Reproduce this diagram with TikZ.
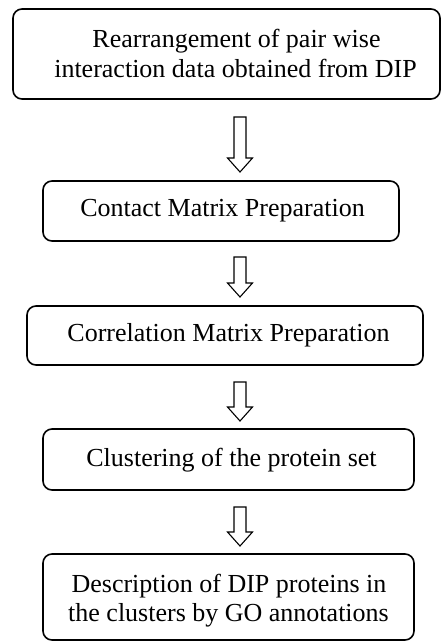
\documentclass[tikz,border=0pt]{standalone}
\usepackage{fontspec}
\setmainfont{Liberation Serif}
\usetikzlibrary{calc}
\tikzset{
  stagebox/.style={draw, line width=1.6pt, rounded corners=9pt, inner sep=0pt},
  boxtext/.style={anchor=base, inner sep=0pt, font=\fontsize{26}{30}\selectfont},
  hollowarrow/.style={draw, line width=1.1pt, fill=white, line join=miter}
}
\newcommand\flowarrow[2]{%
  \draw[hollowarrow] ($(#1)+(-6,0)$) -- ($(#1)+(6,0)$) -- ($(#2)+(6,-14)$)
    -- ($(#2)+(12.5,-14)$) -- (#2) -- ($(#2)+(-12.5,-14)$)
    -- ($(#2)+(-6,-14)$) -- cycle;}
\begin{document}
\begin{tikzpicture}[x=1pt,y=-1pt]
\useasboundingbox (0,0) rectangle (441,643);
% boxes
\node[stagebox, minimum width=427pt, minimum height=90pt] (b1) at (226.5,54) {};
\node[stagebox, minimum width=356pt, minimum height=60pt] (b2) at (221,211) {};
\node[stagebox, minimum width=396pt, minimum height=59pt] (b3) at (225,335.5) {};
\node[stagebox, minimum width=371pt, minimum height=61pt] (b4) at (228.5,459.5) {};
\node[stagebox, minimum width=371pt, minimum height=86pt] (b5) at (228.5,597) {};
% texts
\node[boxtext] (t1a) at (236.5,47.3) {Rearrangement of pair wise};
\node[boxtext] (t1b) at (235.5,77) {interaction data obtained from DIP};
\node[boxtext] (t2) at (222.5,216.7) {Contact Matrix Preparation};
\node[boxtext] (t3) at (228.5,341.7) {Correlation Matrix Preparation};
\node[boxtext] (t4) at (231.5,466) {Clustering of the protein set};
\node[boxtext] (t5a) at (229,592.3) {Description of DIP proteins in};
\node[boxtext] (t5b) at (228.5,621.7) {the clusters by GO annotations};
% arrows
\coordinate (a1t) at (240,117); \coordinate (a1b) at (240,172);
\coordinate (a2t) at (240,257); \coordinate (a2b) at (240,297);
\coordinate (a3t) at (240,382); \coordinate (a3b) at (240,421);
\coordinate (a4t) at (240,507); \coordinate (a4b) at (240,546);
\flowarrow{a1t}{a1b}
\flowarrow{a2t}{a2b}
\flowarrow{a3t}{a3b}
\flowarrow{a4t}{a4b}
\end{tikzpicture}
\end{document}
